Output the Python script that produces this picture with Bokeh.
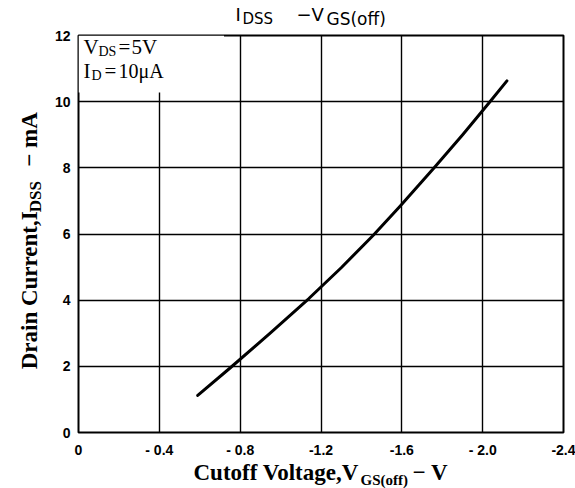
import math
from bokeh.plotting import figure
from bokeh.models import Range1d, FixedTicker, Label
from bokeh.layouts import column, row
from bokeh.embed import file_html
from bokeh.resources import INLINE

# ---- data ----
vgs_off = [-0.59, -0.75, -0.95, -1.14, -1.30, -1.46, -1.59, -1.76, -1.90, -2.03, -2.12]
idss_ma = [1.12, 1.95, 3.01, 4.05, 4.98, 5.97, 6.83, 8.0, 8.99, 9.95, 10.63]

x_ticks = [0, -0.4, -0.8, -1.2, -1.6, -2.0, -2.4]
x_tick_labels = ["0", "- 0.4", "- 0.8", "-1.2", "-1.6", "- 2.0", "-2.4"]
y_ticks = [0, 2, 4, 6, 8, 10, 12]
y_tick_labels = ["0", "2", "4", "6", "8", "10", "12"]

TICK_FONT = "'Liberation Sans', sans-serif"
TITLE_FONT = "'DejaVu Sans', sans-serif"
SERIF = "'Liberation Serif', serif"

W, H = 575, 488
TOP_H, BOT_H, LEFT_W = 28, 28, 46
MID_H = H - TOP_H - BOT_H          # 432
MAIN_W = W - LEFT_W                # 529
B_TOP, B_BOT = 7, 23               # main plot borders -> frame from y=35 to y=437


def set_border(f, l=0, r=0, t=0, b=0):
    f.min_border = 0
    f.min_border_left = l
    f.min_border_right = r
    f.min_border_top = t
    f.min_border_bottom = b


def text_fig(w, h, t=0, b=0):
    f = figure(width=w, height=h, output_backend="svg", toolbar_location=None,
               x_range=Range1d(0, w), y_range=Range1d(0, h - t - b),
               x_axis_type=None, y_axis_type=None)
    set_border(f, t=t, b=b)
    f.title_location = None
    f.outline_line_color = None
    f.background_fill_color = "white"
    f.border_fill_color = "white"
    return f


def put(f, x, y, s, size, font, style="normal", angle=0.0, units="data"):
    f.add_layout(Label(x=x, y=y, x_units=units, y_units=units, text=s,
                       text_font=font, text_font_size=f"{size}px", text_font_style=style,
                       text_color="black", text_align="left", text_baseline="alphabetic",
                       angle=angle))


# ---- main chart ----
p = figure(width=MAIN_W, height=MID_H, output_backend="svg", toolbar_location=None,
           x_range=Range1d(0, -2.4), y_range=Range1d(0, 12))
set_border(p, l=32, r=12, t=B_TOP, b=B_BOT)
p.title_location = None
p.background_fill_color = "white"
p.border_fill_color = "white"
p.outline_line_color = "black"
p.outline_line_width = 2

for ax in (p.xaxis[0], p.yaxis[0]):
    ax.axis_line_color = None
    ax.major_tick_line_color = None
    ax.minor_tick_line_color = None
    ax.major_tick_out = 0
    ax.major_tick_in = 0
    ax.minor_tick_out = 0
    ax.minor_tick_in = 0
    ax.major_label_text_font = TICK_FONT
    ax.major_label_text_font_style = "bold"
    ax.major_label_text_font_size = "14px"
    ax.major_label_text_color = "black"
p.xaxis[0].ticker = FixedTicker(ticks=x_ticks)
p.xaxis[0].major_label_overrides = {t: l for t, l in zip(x_ticks, x_tick_labels)}
p.xaxis[0].major_label_standoff = 9
p.yaxis[0].ticker = FixedTicker(ticks=y_ticks)
p.yaxis[0].major_label_overrides = {t: l for t, l in zip(y_ticks, y_tick_labels)}
p.yaxis[0].major_label_standoff = 8

p.xgrid[0].ticker = FixedTicker(ticks=x_ticks[1:-1])
p.ygrid[0].ticker = FixedTicker(ticks=y_ticks[1:-1])
for g in (p.xgrid[0], p.ygrid[0]):
    g.grid_line_color = "black"
    g.grid_line_width = 1.4
    g.grid_line_alpha = 1.0

# white patch behind the measurement conditions
p.quad(left=[0], right=[-0.72], bottom=[10.28], top=[12], fill_color="white", line_color=None)

# curve
p.line(vgs_off, idss_ma, line_color="black", line_width=3, line_join="round", line_cap="round")

# measurement conditions (screen units relative to the frame)
put(p, 5, 386, "V", 21, SERIF, units="screen")
put(p, 20, 381, "DS", 14, SERIF, units="screen")
put(p, 40, 386, "=", 21, SERIF, units="screen")
put(p, 53, 386, "5V", 21, SERIF, units="screen")
put(p, 5, 362, "I", 21, SERIF, units="screen")
put(p, 13, 357, "D", 14, SERIF, units="screen")
put(p, 26, 362, "=", 21, SERIF, units="screen")
put(p, 40, 362, "10\u03bcA", 20, SERIF, units="screen")

# ---- title strip ----
top = text_fig(W, TOP_H)
put(top, 235, 13.6, "I", 18, TITLE_FONT)
put(top, 242, 9.8, "DSS", 15, TITLE_FONT)
put(top, 296, 13.6, "\u2212", 18, TITLE_FONT)
put(top, 311, 13.6, "V", 18, TITLE_FONT)
put(top, 326, 9.6, "GS(off)", 17, TITLE_FONT)

# ---- y-axis label strip (frame aligned with the chart frame) ----
left = text_fig(LEFT_W, MID_H, t=B_TOP, b=B_BOT)
r = math.pi / 2
put(left, 29.4, 64, "Drain Current,I", 23, SERIF, "bold", r)
put(left, 35.4, 223, "DSS", 17, SERIF, "bold", r)
put(left, 29.4, 269, "\u2212 mA", 23, SERIF, "bold", r)

# ---- x-axis label strip ----
bot = text_fig(W, BOT_H)
put(bot, 193, 15.6, "Cutoff Voltage,V", 23, SERIF, "bold")
put(bot, 360, 9, "GS(off)", 15, SERIF, "bold")
put(bot, 412, 15.6, "\u2212 V", 23, SERIF, "bold")

layout = column(top, row(left, p), bot)
open("out.html", "w").write(file_html(layout, INLINE))
